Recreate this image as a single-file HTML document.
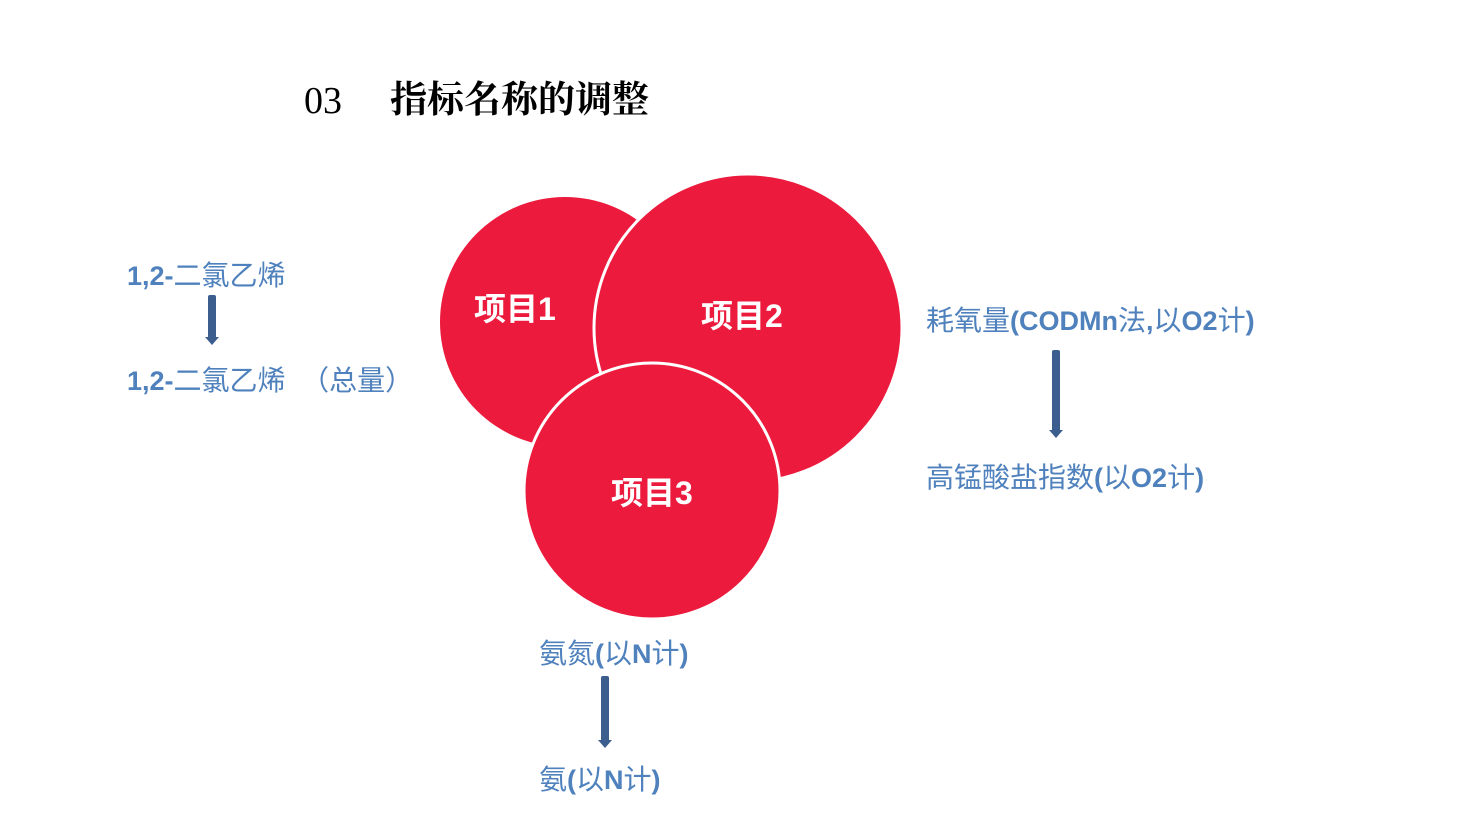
<!DOCTYPE html>
<html><head><meta charset="utf-8"><style>
body{margin:0;width:1476px;height:827px;background:#fff;position:relative;overflow:hidden;font-family:"Liberation Sans","Noto Sans CJK SC",sans-serif}
.t{position:absolute;color:#4F81BD;font-size:28px;line-height:28px;white-space:nowrap}
.t b{font-weight:bold;font-size:27px}
.a{position:absolute;width:8px;background:#3B5E8F;border-radius:2px}
.a:after{content:"";position:absolute;left:-3px;bottom:-6px;border-left:7px solid transparent;border-right:7px solid transparent;border-top:8px solid #3B5E8F}
</style></head><body>
<div style="position:absolute;left:304px;top:79px;font-family:'Liberation Serif',serif;font-size:38px;line-height:44px">03</div>
<div style="position:absolute;left:390px;top:79px;font-family:'Liberation Serif','Noto Serif CJK SC',serif;font-weight:bold;font-size:37px;line-height:44px">指标名称的调整</div>
<svg width="1476" height="827" style="position:absolute;left:0;top:0">
<circle cx="565" cy="322" r="125" fill="#EC1B3E"/>
<circle cx="748" cy="328" r="154" fill="#EC1B3E" stroke="#fff" stroke-width="3"/>
<circle cx="652" cy="491" r="128" fill="#EC1B3E" stroke="#fff" stroke-width="3"/>
<g fill="#fff" font-family="Liberation Sans,Noto Sans CJK SC,sans-serif" font-weight="bold" font-size="32">
<text x="474" y="320">项目1</text>
<text x="701" y="327">项目2</text>
<text x="611" y="504">项目3</text>
</g>
</svg>
<div class="t" style="left:127px;top:262px"><b>1,2-</b>二氯乙烯</div>
<div class="a" style="left:208px;top:295px;height:44px"></div>
<div class="t" style="left:127px;top:367px"><b>1,2-</b>二氯乙烯&nbsp;&nbsp;（总量）</div>
<div class="t" style="left:926px;top:307px">耗氧量<b>(CODMn</b>法<b>,</b>以<b>O2</b>计<b>)</b></div>
<div class="a" style="left:1052px;top:350px;height:82px"></div>
<div class="t" style="left:926px;top:464px">高锰酸盐指数<b>(</b>以<b>O2</b>计<b>)</b></div>
<div class="t" style="left:539px;top:640px">氨氮<b>(</b>以<b>N</b>计<b>)</b></div>
<div class="a" style="left:601px;top:676px;height:66px"></div>
<div class="t" style="left:539px;top:766px">氨<b>(</b>以<b>N</b>计<b>)</b></div>
</body></html>
